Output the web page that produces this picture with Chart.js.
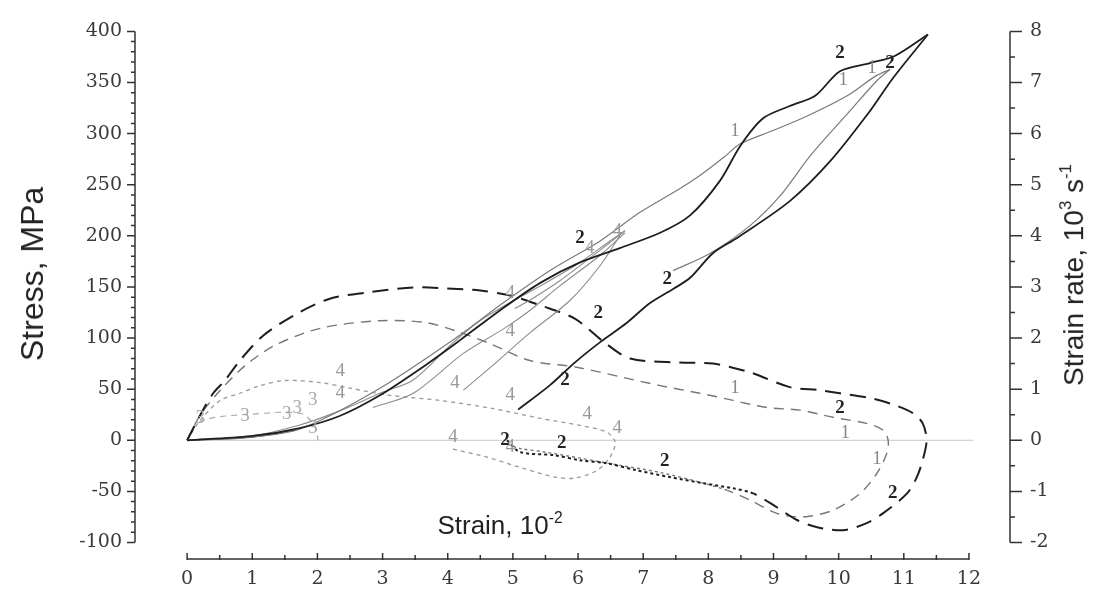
<!DOCTYPE html>
<html lang="en">
<head>
<meta charset="UTF-8">
<title>Stress and strain rate vs strain</title>
<script src="https://cdn.jsdelivr.net/npm/chart.js@4/dist/chart.umd.min.js"></script>
<style>
  body { margin: 0; background: #fff; }
  #wrap { position: relative; width: 1106px; height: 591px; }
  .title { position: absolute; font-family: "Liberation Sans", Arial, sans-serif; color: #222; white-space: nowrap; line-height: 1; }
  .rot { transform: translate(-50%, -50%) rotate(-90deg); }
  .title sup { font-size: 60%; vertical-align: 0.7em; }
</style>
</head>
<body>
<div id="wrap">
  <canvas id="chart" width="1106" height="591"></canvas>
  <div class="title rot" style="left:32px;top:274px;font-size:32px">Stress, MPa</div>
  <div class="title rot" style="left:1073px;top:275px;font-size:28px">Strain rate, 10<sup>3</sup> s<sup>-1</sup></div>
  <div class="title" style="left:500px;top:524px;font-size:26px;transform:translate(-50%,-50%)">Strain, 10<sup>-2</sup></div>
</div>

<script>
// strain axis, 10^-2
var strainTicks = [0, 1, 2, 3, 4, 5, 6, 7, 8, 9, 10, 11, 12];

// stress curves (MPa)
var load2X = [0, 0.97, 1.73, 2.35, 2.96, 3.58, 4.19, 4.80, 5.42, 6.03, 6.64, 7.26, 7.72, 8.18, 8.49, 8.84, 9.25, 9.64, 10.02, 10.48, 10.86, 11.37];
var load2Y = [0, 4, 12, 24, 44, 70, 98, 127, 154, 174, 188, 203, 220, 254, 288, 315, 327, 337, 361, 369, 376, 397];
var unload2X = [11.37, 10.83, 10.48, 9.87, 9.25, 8.44, 8.07, 7.72, 7.46, 7.10, 6.75, 6.34, 5.95, 5.57, 5.08];
var unload2Y = [397, 354, 322, 273, 234, 198, 183, 159, 148, 134, 115, 96, 76, 54, 30];

var load1X = [0, 0.97, 1.73, 2.96, 4.19, 4.80, 5.57, 6.34, 6.95, 7.56, 7.87, 8.26, 8.49, 8.99, 9.51, 10.13, 10.56, 10.79];
var load1Y = [0, 3, 11, 51, 103, 132, 166, 195, 223, 246, 259, 278, 290, 303, 317, 337, 356, 363];
var unload1X = [10.79, 10.59, 10.17, 9.56, 9.10, 8.64, 8.03, 7.46];
var unload1Y = [363, 352, 322, 278, 239, 210, 183, 166];

var load4X = [0, 0.97, 1.73, 2.35, 2.96, 3.47, 4.04, 4.45, 4.88, 5.42, 6.03, 6.49, 6.72];
var load4Y = [0, 4, 15, 29, 46, 59, 93, 115, 132, 151, 174, 195, 205];
var unload4aX = [6.72, 6.34, 5.72, 5.26, 5.03];
var unload4aY = [205, 186, 156, 137, 129];
var unload4bX = [6.72, 6.34, 5.72, 5.26, 4.88, 4.24, 3.47, 2.85];
var unload4bY = [203, 181, 151, 127, 110, 85, 46, 32];
var unload4cX = [6.64, 6.34, 5.88, 5.26, 4.65, 4.24];
var unload4cY = [200, 171, 137, 105, 71, 49];

var load3X = [0, 0.97, 1.66];
var load3Y = [0, 3, 10];

// strain rate curves (10^3 s^-1)
var rate2X = [0, 0.20, 0.40, 0.58, 0.81, 1.17, 1.69, 2.19, 2.76, 3.47, 3.99, 4.50, 4.96, 5.42, 5.95, 6.41, 6.80, 7.56, 8.07, 8.64, 9.25, 9.71, 10.02, 10.43, 10.79, 11.14, 11.29, 11.35, 11.29, 11.20, 11.05, 10.68, 10.43, 10.07, 9.67, 9.36, 9.05, 8.69, 8.38, 7.92, 7.41, 6.91, 6.44, 6.03, 5.62, 5.11, 4.91];
var rate2Y = [0, 0.49, 0.92, 1.17, 1.56, 2.05, 2.48, 2.77, 2.89, 2.99, 2.97, 2.93, 2.83, 2.64, 2.38, 1.91, 1.60, 1.52, 1.50, 1.33, 1.04, 0.98, 0.92, 0.84, 0.72, 0.53, 0.33, 0, -0.39, -0.72, -1.04, -1.43, -1.62, -1.76, -1.70, -1.56, -1.31, -1.04, -0.94, -0.84, -0.72, -0.59, -0.45, -0.39, -0.29, -0.23, 0];

var rate1X = [0, 0.20, 0.51, 0.89, 1.35, 2.04, 2.96, 3.68, 4.19, 4.65, 5.26, 5.98, 6.69, 7.26, 7.87, 8.38, 8.90, 9.41, 9.91, 10.43, 10.68, 10.76, 10.74, 10.59, 10.33, 9.91, 9.45, 9.05, 8.64, 8.29, 7.87, 7.26, 6.64, 6.03, 5.49, 5.11, 4.88];
var rate1Y = [0, 0.49, 0.98, 1.46, 1.86, 2.19, 2.34, 2.30, 2.11, 1.89, 1.56, 1.43, 1.23, 1.07, 0.92, 0.78, 0.64, 0.59, 0.45, 0.33, 0.20, 0, -0.25, -0.64, -1.04, -1.37, -1.50, -1.43, -1.17, -0.98, -0.82, -0.63, -0.49, -0.35, -0.23, -0.16, -0.06];

var rate4X = [0, 0.20, 0.51, 0.81, 1.12, 1.50, 2.04, 2.50, 3.11, 3.88, 4.65, 5.42, 6.03, 6.44, 6.57, 6.49, 6.29, 5.95, 5.65, 5.11, 4.60, 4.04];
var rate4Y = [0, 0.39, 0.78, 0.92, 1.07, 1.17, 1.13, 1.02, 0.88, 0.78, 0.63, 0.43, 0.29, 0.16, -0.04, -0.33, -0.59, -0.74, -0.72, -0.53, -0.33, -0.16];

var rate3X = [0, 0.12, 0.35, 0.97, 1.73, 1.96, 2.01];
var rate3Y = [0, 0.29, 0.43, 0.51, 0.53, 0.29, 0];

// curve number labels, placed in strain / stress units
var twoX = [10.02, 10.79, 6.03, 6.31, 7.37, 5.80, 10.02, 4.88, 5.75, 7.33, 10.83];
var twoY = [379, 369, 198, 124, 158, 59, 31, 0, -3, -20, -52];
var oneX = [8.41, 10.07, 10.51, 8.41, 10.10, 10.59];
var oneY = [303, 352, 364, 51, 7, -18];
var fourX = [6.60, 6.18, 4.96, 4.96, 4.11, 4.96, 2.35, 2.35, 6.14, 6.60, 4.08, 4.96];
var fourY = [205, 188, 144, 107, 56, 44, 68, 46, 26, 12, 3, -7];
var threeX = [0.20, 0.89, 1.53, 1.69, 1.93, 1.93];
var threeY = [22, 24, 26, 32, 39, 12];

function pts(xs, ys) {
    return xs.map(function (x, i) { return { x: x, y: ys[i] }; });
}

function solid(xs, ys, color, width) {
    return { data: pts(xs, ys), borderColor: color, borderWidth: width, yAxisID: 'y' };
}

function dashed(xs, ys, color, width, dash, dotFrom) {
    return {
        data: pts(xs, ys), borderColor: color, borderWidth: width, borderDash: dash, yAxisID: 'y2',
        segment: {
            borderDash: function (ctx) { return ctx.p0DataIndex >= dotFrom ? [3, 3] : undefined; }
        }
    };
}

var datasets = [
    solid(load2X, load2Y, '#1e1e1e', 1.8),
    solid(unload2X, unload2Y, '#1e1e1e', 1.8),
    solid(load1X, load1Y, '#7a7a7a', 1.2),
    solid(unload1X, unload1Y, '#7a7a7a', 1.2),
    solid(load4X, load4Y, '#8c8c8c', 1.1),
    solid(unload4aX, unload4aY, '#8c8c8c', 1.1),
    solid(unload4bX, unload4bY, '#8c8c8c', 1.1),
    solid(unload4cX, unload4cY, '#8c8c8c', 1.1),
    solid(load3X, load3Y, '#444', 1.5),
    dashed(rate2X, rate2Y, '#1e1e1e', 2, [16, 9], 37),
    dashed(rate1X, rate1Y, '#777', 1.4, [10, 7], 29),
    dashed(rate4X, rate4Y, '#999', 1.3, [4, 4], 99),
    dashed(rate3X, rate3Y, '#aaa', 1.2, [6, 5], 99),
    { data: pts([0, 12.06], [0, 0]), borderColor: '#c8c8c8', borderWidth: 1, yAxisID: 'y', tension: 0 }
];

var tickFont = { family: '"DejaVu Serif", "Liberation Serif", serif', size: 19 };

var axesPlugin = {
    id: 'axes',
    afterDraw: function (chart) {
        var ctx = chart.ctx, a = chart.chartArea;
        var x = chart.scales.x, y = chart.scales.y, y2 = chart.scales.y2;
        ctx.save();
        ctx.strokeStyle = '#333';
        ctx.lineWidth = 1.5;
        ctx.beginPath();
        // left axis
        ctx.moveTo(a.left, a.top);
        ctx.lineTo(a.left, a.bottom);
        for (var v = -100; v <= 400; v += 10) {
            var p = y.getPixelForValue(v);
            ctx.moveTo(a.left - (v % 50 === 0 ? 8 : 4), p);
            ctx.lineTo(a.left, p);
        }
        // right axis
        ctx.moveTo(a.right, a.top);
        ctx.lineTo(a.right, a.bottom);
        for (var r = -2; r <= 8; r += 0.5) {
            var q = y2.getPixelForValue(r);
            ctx.moveTo(a.right, q);
            ctx.lineTo(a.right + (r % 1 === 0 ? 12 : 5), q);
        }
        // strain axis, drawn below the plot
        var base = a.bottom + 16.5;
        ctx.moveTo(x.getPixelForValue(0), base);
        ctx.lineTo(x.getPixelForValue(12), base);
        for (var s = 0; s <= 12; s += 0.5) {
            var px = x.getPixelForValue(s);
            ctx.moveTo(px, base + 1);
            ctx.lineTo(px, base - (s % 1 === 0 ? 6 : 4));
        }
        ctx.stroke();
        ctx.restore();
    }
};

var labelPlugin = {
    id: 'curveLabels',
    afterDatasetsDraw: function (chart) {
        var ctx = chart.ctx, x = chart.scales.x, y = chart.scales.y;
        ctx.save();
        ctx.textAlign = 'center';
        ctx.textBaseline = 'middle';
        function put(text, xs, ys, color, font) {
            ctx.fillStyle = color;
            ctx.font = font;
            for (var i = 0; i < xs.length; i++) {
                ctx.fillText(text, x.getPixelForValue(xs[i]), y.getPixelForValue(ys[i]));
            }
        }
        put('2', twoX, twoY, '#222', 'bold 19px "Liberation Serif"');
        put('1', oneX, oneY, '#888', '19px "Liberation Serif"');
        put('4', fourX, fourY, '#999', '19px "Liberation Serif"');
        put('3', threeX, threeY, '#aaa', '19px "Liberation Serif"');
        ctx.restore();
    }
};

new Chart(document.getElementById('chart'), {
    type: 'scatter',
    data: { datasets: datasets },
    options: {
        responsive: false,
        animation: false,
        showLine: true,
        layout: { padding: { top: 30.5, left: 0, right: 0, bottom: 0 } },
        plugins: { legend: { display: false }, tooltip: { enabled: false } },
        elements: { point: { radius: 0 }, line: { tension: 0.3, fill: false } },
        scales: {
            x: {
                type: 'linear', min: -0.8, max: 12.63,
                grid: { display: false, drawTicks: false }, border: { display: false },
                afterBuildTicks: function (s) { s.ticks = strainTicks.map(function (v) { return { value: v }; }); },
                afterFit: function (s) { s.height = 48.5; },
                ticks: { font: tickFont, color: '#3a3a3a', padding: 25, maxRotation: 0 }
            },
            y: {
                position: 'left', min: -100, max: 400,
                grid: { display: false, drawTicks: false }, border: { display: false },
                afterFit: function (s) { s.width = 135; },
                ticks: { stepSize: 50, font: tickFont, color: '#3a3a3a', padding: 13 }
            },
            y2: {
                position: 'right', min: -2, max: 8,
                grid: { display: false, drawTicks: false }, border: { display: false },
                afterFit: function (s) { s.width = 96; },
                ticks: { stepSize: 1, font: tickFont, color: '#3a3a3a', padding: 20 }
            }
        }
    },
    plugins: [axesPlugin, labelPlugin]
});
</script>
</body>
</html>
